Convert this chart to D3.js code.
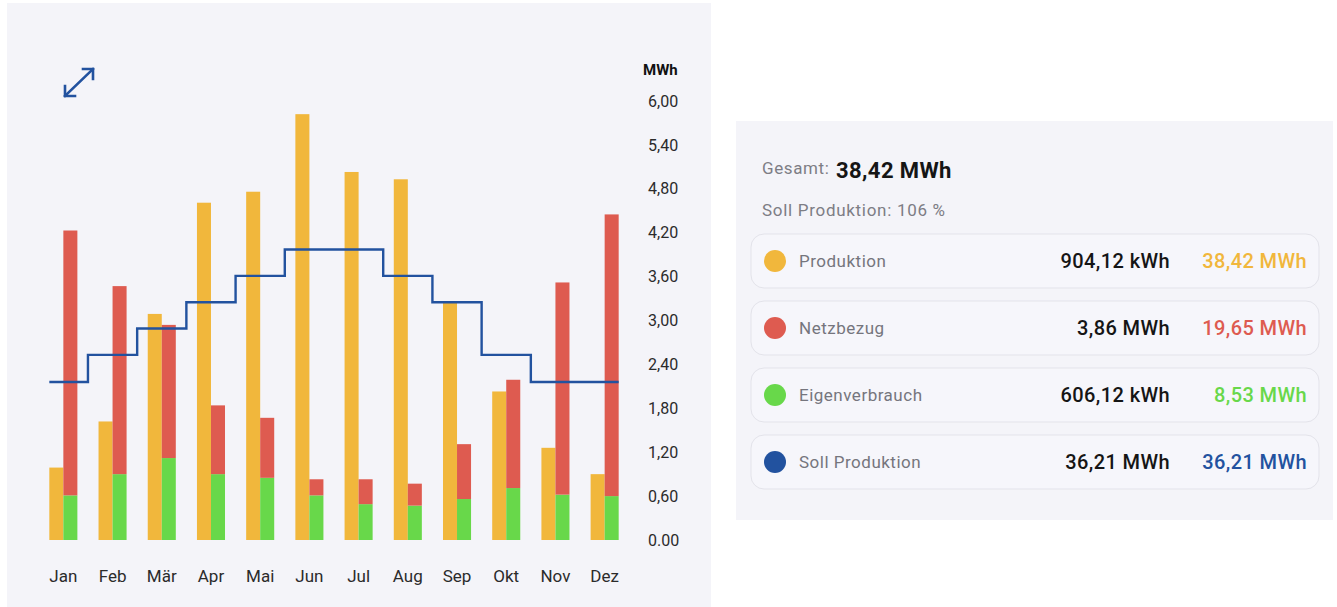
<!DOCTYPE html>
<html>
<head>
<meta charset="utf-8">
<script src="https://cdn.jsdelivr.net/npm/d3@7"></script>
<style>
  html, body { margin: 0; padding: 0; background: #ffffff; }
  svg { display: block; font-family: Roboto, "Noto Sans", sans-serif; }
</style>
</head>
<body>
<svg id="chart" width="1337" height="607"></svg>
<script>
const months = ["Jan","Feb","Mär","Apr","Mai","Jun","Jul","Aug","Sep","Okt","Nov","Dez"];
const produktion = [0.99,1.62,3.09,4.61,4.76,5.82,5.03,4.93,3.25,2.03,1.26,0.90];
const eigenverbrauch = [0.61,0.90,1.12,0.90,0.85,0.61,0.49,0.47,0.56,0.71,0.62,0.60];
const netzbezug = [3.62,2.57,1.82,0.94,0.82,0.22,0.34,0.30,0.75,1.48,2.90,3.85];
const sollProduktion = [2.16,2.53,2.89,3.25,3.61,3.97,3.97,3.61,3.25,2.53,2.16,2.16];
const yTicks = [0,0.6,1.2,1.8,2.4,3.0,3.6,4.2,4.8,5.4,6.0];
const yTickLabels = ["0.00","0,60","1,20","1,80","2,40","3,00","3,60","4,20","4,80","5,40","6,00"];
const legendNames = ["Produktion","Netzbezug","Eigenverbrauch","Soll Produktion"];
const legendValues1 = ["904,12 kWh","3,86 MWh","606,12 kWh","36,21 MWh"];
const legendValues2 = ["38,42 MWh","19,65 MWh","8,53 MWh","36,21 MWh"];
const colors = {prod:"#F1B73C", netz:"#DE5B50", eigen:"#68D84A", soll:"#22529F"};
const legendColors = [colors.prod, colors.netz, colors.eigen, colors.soll];

const svg = d3.select("#chart");

// left panel background
svg.append("rect").attr("x",7).attr("y",3).attr("width",704).attr("height",604).attr("fill","#F4F4F9");
// right panel background
svg.append("rect").attr("x",736).attr("y",121).attr("width",597).attr("height",399).attr("fill","#F4F4F9");

const x = d3.scaleBand().domain(months).range([38.5, 629.5]).paddingInner(0.43).paddingOuter(0.22);
const y = d3.scaleLinear().domain([0,6]).range([540,101]);
const bw = x.bandwidth()/2;

const g = svg.append("g");

// yellow production bars
g.selectAll(".prod").data(months).join("rect")
  .attr("x", d => x(d)).attr("width", bw)
  .attr("y", (d,i) => y(produktion[i])).attr("height", (d,i) => y(0) - y(produktion[i]))
  .attr("fill", colors.prod);
// green eigenverbrauch
g.selectAll(".eigen").data(months).join("rect")
  .attr("x", d => x(d) + bw).attr("width", bw)
  .attr("y", (d,i) => y(eigenverbrauch[i])).attr("height", (d,i) => y(0) - y(eigenverbrauch[i]))
  .attr("fill", colors.eigen);
// red netzbezug stacked
g.selectAll(".netz").data(months).join("rect")
  .attr("x", d => x(d) + bw).attr("width", bw)
  .attr("y", (d,i) => y(eigenverbrauch[i] + netzbezug[i]))
  .attr("height", (d,i) => y(eigenverbrauch[i]) - y(eigenverbrauch[i] + netzbezug[i]))
  .attr("fill", colors.netz);

// step line
const step = x.step();
const pts = months.map((m,i) => [i === 0 ? x(m) : x(m) + x.bandwidth()/2 - step/2, sollProduktion[i]]);
pts.push([x(months[11]) + x.bandwidth(), sollProduktion[11]]);
g.append("path")
  .attr("d", d3.line().x(d => d[0]).y(d => y(d[1])).curve(d3.curveStepAfter)(pts))
  .attr("fill","none").attr("stroke", colors.soll).attr("stroke-width", 2.4);

// x axis labels
const xAxis = d3.axisBottom(x).tickSize(0).tickPadding(0);
const xg = svg.append("g").attr("transform","translate(0,582)").call(xAxis);
xg.select(".domain").remove();
xg.selectAll("text").attr("font-size", 17).attr("fill","#2b2b2b").attr("dy", 0)
  .attr("font-family","Roboto, sans-serif");

// y axis labels
const yAxis = d3.axisRight(y).tickValues(yTicks).tickFormat((d,i) => yTickLabels[i]).tickSize(0).tickPadding(0);
const yg = svg.append("g").attr("transform","translate(648,0)").call(yAxis);
yg.select(".domain").remove();
yg.selectAll("text").attr("font-size", 16).attr("fill","#2b2b2b").attr("text-anchor","start")
  .attr("font-family","Roboto, sans-serif");
svg.append("text").attr("x",643).attr("y",75).attr("font-size",15).attr("font-weight","bold")
  .attr("fill","#111").text("MWh");

// expand icon
const ic = svg.append("g").attr("stroke", colors.soll).attr("stroke-width", 2.6).attr("fill","none")
  .attr("stroke-linecap","square");
ic.append("line").attr("x1",65).attr("y1",96).attr("x2",93).attr("y2",69);
ic.append("polyline").attr("points","65,86 65,96 75,96");
ic.append("polyline").attr("points","83,69 93,69 93,79");

// right panel
svg.append("text").attr("x",762).attr("y",174).attr("font-size",17).attr("letter-spacing",0.6).attr("fill","#7d7d85").text("Gesamt:");
svg.append("text").attr("x",836).attr("y",178).attr("font-size",22).attr("letter-spacing",0.4).attr("font-weight","bold").attr("fill","#151515").text("38,42 MWh");
svg.append("text").attr("x",762).attr("y",216).attr("font-size",17).attr("letter-spacing",0.7).attr("fill","#7d7d85").text("Soll Produktion: 106 %");

const rowY = d3.scalePoint().domain(legendNames).range([261, 462]);
const rows = svg.selectAll(".row").data(legendNames).join("g").attr("transform", d => `translate(0,${rowY(d)})`);
rows.append("rect").attr("x",751).attr("y",-27).attr("width",568).attr("height",54).attr("rx",13)
  .attr("fill","#F6F6FB").attr("stroke","#E3E3EA").attr("stroke-width",1);
rows.append("circle").attr("cx",775).attr("cy",0).attr("r",11).attr("fill",(d,i) => legendColors[i]);
rows.append("text").attr("x",799).attr("y",6).attr("font-size",17).attr("letter-spacing",0.5).attr("fill","#75757d").text(d => d);
rows.append("text").attr("x",1170).attr("y",7).attr("font-size",20).attr("font-weight",500).attr("letter-spacing",0.4).attr("text-anchor","end").attr("fill","#151515")
  .text((d,i) => legendValues1[i]);
rows.append("text").attr("x",1307).attr("y",7).attr("font-size",20).attr("font-weight",500).attr("letter-spacing",0.4).attr("text-anchor","end").attr("fill",(d,i) => legendColors[i])
  .text((d,i) => legendValues2[i]);
</script>
</body>
</html>
